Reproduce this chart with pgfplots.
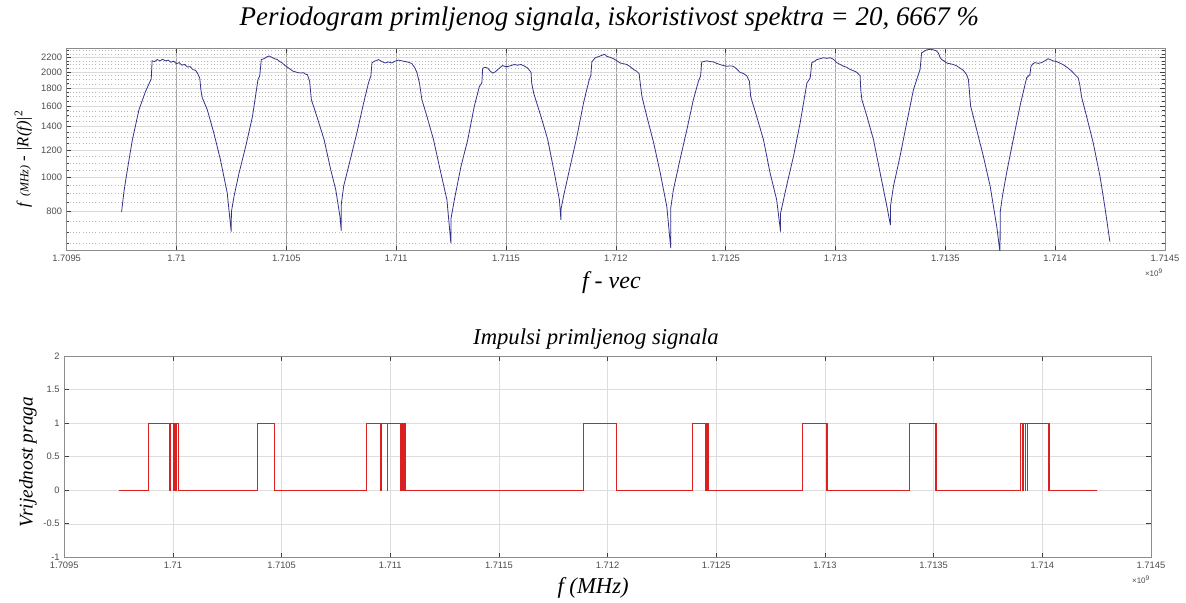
\documentclass[border=0pt]{standalone}
\usepackage{fontspec}
\setmainfont{Liberation Serif}
\newfontfamily\ticksans{Liberation Sans}
\usepackage{pgfplots}
\pgfplotsset{compat=1.18}

\definecolor{specline}{rgb}{0.20,0.20,0.55}
\definecolor{pulseline}{rgb}{0.85,0.13,0.13}
\definecolor{axgray}{gray}{0.55}

% x values: offset in kHz from 1.7095 GHz
\pgfplotsset{matlabaxis/.style={
  scale only axis,
  axis line style={axgray, line width=0.6pt},
  tick style={black!75, line width=0.5pt},
  major tick length=3.5pt,
  minor tick length=2pt,
  tick align=inside,
  tick pos=both,
  ticklabel style={font=\ticksans\fontsize{7}{8}\selectfont, text=black!70},
  xmin=0, xmax=5000,
  xtick={0,500,...,5000},
  xticklabels={1.7095,1.71,1.7105,1.711,1.7115,1.712,1.7125,1.713,1.7135,1.714,1.7145},
  xmajorgrids,
  ymajorgrids,
}}

\begin{document}
\begin{tikzpicture}
\path (0pt,0pt) rectangle (889.5pt,451.5pt);

% ---------- periodogram ----------
\begin{axis}[matlabaxis,
  at={(50pt,263.5pt)}, anchor=south west,
  width=823.75pt, height=151.8pt,
  ymode=log, ymin=620, ymax=2335,
  ytick={800,1000,1200,1400,1600,1800,2000,2200},
  yticklabels={800,1000,1200,1400,1600,1800,2000,2200},
  minor ytick={650,700,750,850,900,950,1050,1100,1150,1250,1300,1350,1450,1500,1550,1650,1700,1750,1850,1900,1950,2050,2100,2150,2250,2300},
  yminorgrids,
  x grid style={black!35, line width=0.4pt},
  y grid style={black!15, line width=0.4pt},
  minor y grid style={black!28, dotted, line width=0.4pt},
]
\addplot[specline, line width=0.6pt] coordinates {
(250,800)(261,915)(276,1050)(299,1280)(329,1560)(359,1760)(375,1850)(385,1910)(389,2150)(400,2140)(412,2168)(425,2150)(437,2172)(450,2150)(462,2160)(475,2130)(487,2145)(500,2110)(512,2125)(525,2090)(537,2100)(550,2065)(562,2070)(575,2030)(587,2020)(597,1975)(606,1920)(611,1780)(617,1690)(640,1562)(670,1340)(700,1125)(731,904)(749,702)
(750,800)(762,886)(785,1033)(815,1227)(846,1495)(871,1902)(879,1948)(886,2168)(898,2180)(910,2205)(922,2220)(934,2200)(946,2180)(958,2170)(970,2140)(982,2120)(994,2085)(1006,2060)(1018,2035)(1030,2010)(1042,2000)(1054,1990)(1066,1985)(1078,1990)(1088,1970)(1096,1965)(1106,1880)(1114,1668)(1141,1480)(1172,1283)(1202,1054)(1225,924)(1244,776)(1250,706)
(1250,837)(1261,946)(1291,1125)(1321,1340)(1352,1633)(1374,1860)(1385,1950)(1390,2125)(1405,2150)(1420,2168)(1435,2140)(1450,2120)(1465,2135)(1480,2120)(1495,2145)(1511,2160)(1526,2150)(1541,2140)(1556,2130)(1571,2113)(1584,2060)(1594,1995)(1606,1860)(1617,1668)(1640,1495)(1670,1283)(1700,1054)(1731,866)(1749,651)
(1750,767)(1765,866)(1795,1076)(1826,1283)(1856,1600)(1879,1818)(1890,1860)(1894,2050)(1905,2060)(1917,2050)(1928,2010)(1940,1985)(1951,2000)(1962,2030)(1974,2060)(1985,2085)(1997,2070)(2008,2070)(2023,2085)(2038,2099)(2053,2090)(2068,2099)(2083,2080)(2099,2050)(2114,1995)(2117,1860)(2126,1740)(2159,1495)(2190,1283)(2220,1033)(2243,866)(2250,759)
(2250,810)(2262,886)(2292,1076)(2323,1310)(2353,1633)(2379,1902)(2386,1950)(2391,2135)(2406,2195)(2421,2210)(2437,2230)(2448,2245)(2459,2215)(2474,2200)(2490,2180)(2505,2150)(2520,2120)(2535,2110)(2550,2099)(2565,2070)(2581,2031)(2594,2010)(2606,1976)(2611,1860)(2619,1700)(2641,1495)(2672,1258)(2702,1033)(2732,828)(2750,630)
(2750,820)(2762,924)(2792,1125)(2823,1366)(2853,1668)(2876,1880)(2886,1950)(2891,2135)(2902,2140)(2914,2150)(2929,2140)(2944,2135)(2959,2115)(2974,2099)(2990,2085)(3005,2075)(3020,2080)(3035,2075)(3050,2040)(3065,1995)(3080,1980)(3096,1950)(3108,1880)(3114,1700)(3141,1495)(3172,1283)(3202,1033)(3232,866)(3250,702)
(3250,793)(3277,946)(3309,1152)(3339,1431)(3370,1860)(3385,1924)(3392,2125)(3403,2140)(3415,2168)(3430,2180)(3446,2195)(3461,2185)(3476,2195)(3491,2170)(3506,2125)(3521,2100)(3537,2075)(3552,2060)(3567,2031)(3582,2015)(3597,1995)(3612,1950)(3615,1781)(3620,1668)(3643,1495)(3673,1283)(3703,1033)(3734,828)(3750,733)
(3750,828)(3764,946)(3794,1152)(3824,1431)(3855,1781)(3877,1965)(3885,2031)(3892,2265)(3904,2290)(3915,2310)(3931,2320)(3946,2310)(3957,2300)(3968,2265)(3976,2200)(3983,2168)(3994,2150)(4006,2120)(4021,2110)(4037,2099)(4052,2080)(4067,2050)(4082,2020)(4097,1965)(4105,1902)(4109,1781)(4115,1600)(4143,1366)(4173,1152)(4204,946)(4234,727)(4249,612)
(4250,800)(4260,886)(4279,1033)(4309,1283)(4340,1600)(4370,1924)(4385,1965)(4390,2075)(4399,2110)(4408,2125)(4423,2115)(4438,2125)(4453,2150)(4468,2180)(4480,2165)(4491,2150)(4506,2140)(4521,2120)(4540,2090)(4559,2050)(4575,2010)(4590,1965)(4605,1924)(4612,1840)(4620,1700)(4643,1495)(4673,1258)(4704,1010)(4726,828)(4749,658)
};
\end{axis}

% ---------- threshold pulses ----------
\begin{axis}[matlabaxis,
  at={(48.2pt,33.5pt)}, anchor=south west,
  width=815pt, height=151pt,
  ymin=-1, ymax=2,
  ytick={-1,-0.5,0,0.5,1,1.5,2},
  yticklabels={-1,-0.5,0,0.5,1,1.5,2},
  grid style={black!13, line width=0.4pt},
]
\addplot[pulseline, line width=0.5pt, const plot] coordinates {
(250,0)(387,1)(482,0)(488,1)(502,0)(506,1)(513,0)(516,1)(525,0)
(888,1)(966,0)
(1388,1)(1453,0)(1457,1)(1486,0)(1488,1)(1545,0)(1548,1)(1552,0)(1555,1)(1558,0)(1561,1)(1564,0)(1566,1)(1568,0)
(2388,1)(2539,0)
(2890,1)(2948,0)(2951,1)(2954,0)(2957,1)(2960,0)(2962,1)(2964,0)
(3396,1)(3506,0)(3508,1)(3510,0)
(3889,1)(4008,0)(4010,1)(4012,0)
(4401,1)(4409,0)(4411,1)(4421,0)(4423,1)(4429,0)(4431,1)(4530,0)(4532,1)(4534,0)
(4750,0)
};
\end{axis}

% titles and labels
\node[font=\itshape\fontsize{20.2}{22}\selectfont] at (457pt,437pt)
  {Periodogram primljenog signala, iskoristivost spektra = 20, 6667 \%};
\node[font=\itshape\fontsize{18}{20}\selectfont] at (458.5pt,239.3pt) {f - vec};
\node[font=\ticksans\fontsize{6}{7}\selectfont, text=black!70] at (865.5pt,246.8pt) {×10\textsuperscript{9}};
\node[font=\fontsize{12.5}{14}\selectfont, rotate=90] at (17.5pt,332.3pt)
  {\textit{f} {\itshape\fontsize{9}{11}\selectfont(MHz)} - \textit{|R(f)|}\textsuperscript{2}};

\node[font=\itshape\fontsize{17}{19}\selectfont] at (447pt,197.3pt) {Impulsi primljenog signala};
\node[font=\itshape\fontsize{17}{19}\selectfont] at (444.8pt,10.5pt) {f (MHz)};
\node[font=\ticksans\fontsize{6}{7}\selectfont, text=black!70] at (855.8pt,16.5pt) {×10\textsuperscript{9}};
\node[font=\itshape\fontsize{14.5}{16}\selectfont, rotate=90] at (21pt,105pt) {Vrijednost praga};
\end{tikzpicture}
\end{document}
